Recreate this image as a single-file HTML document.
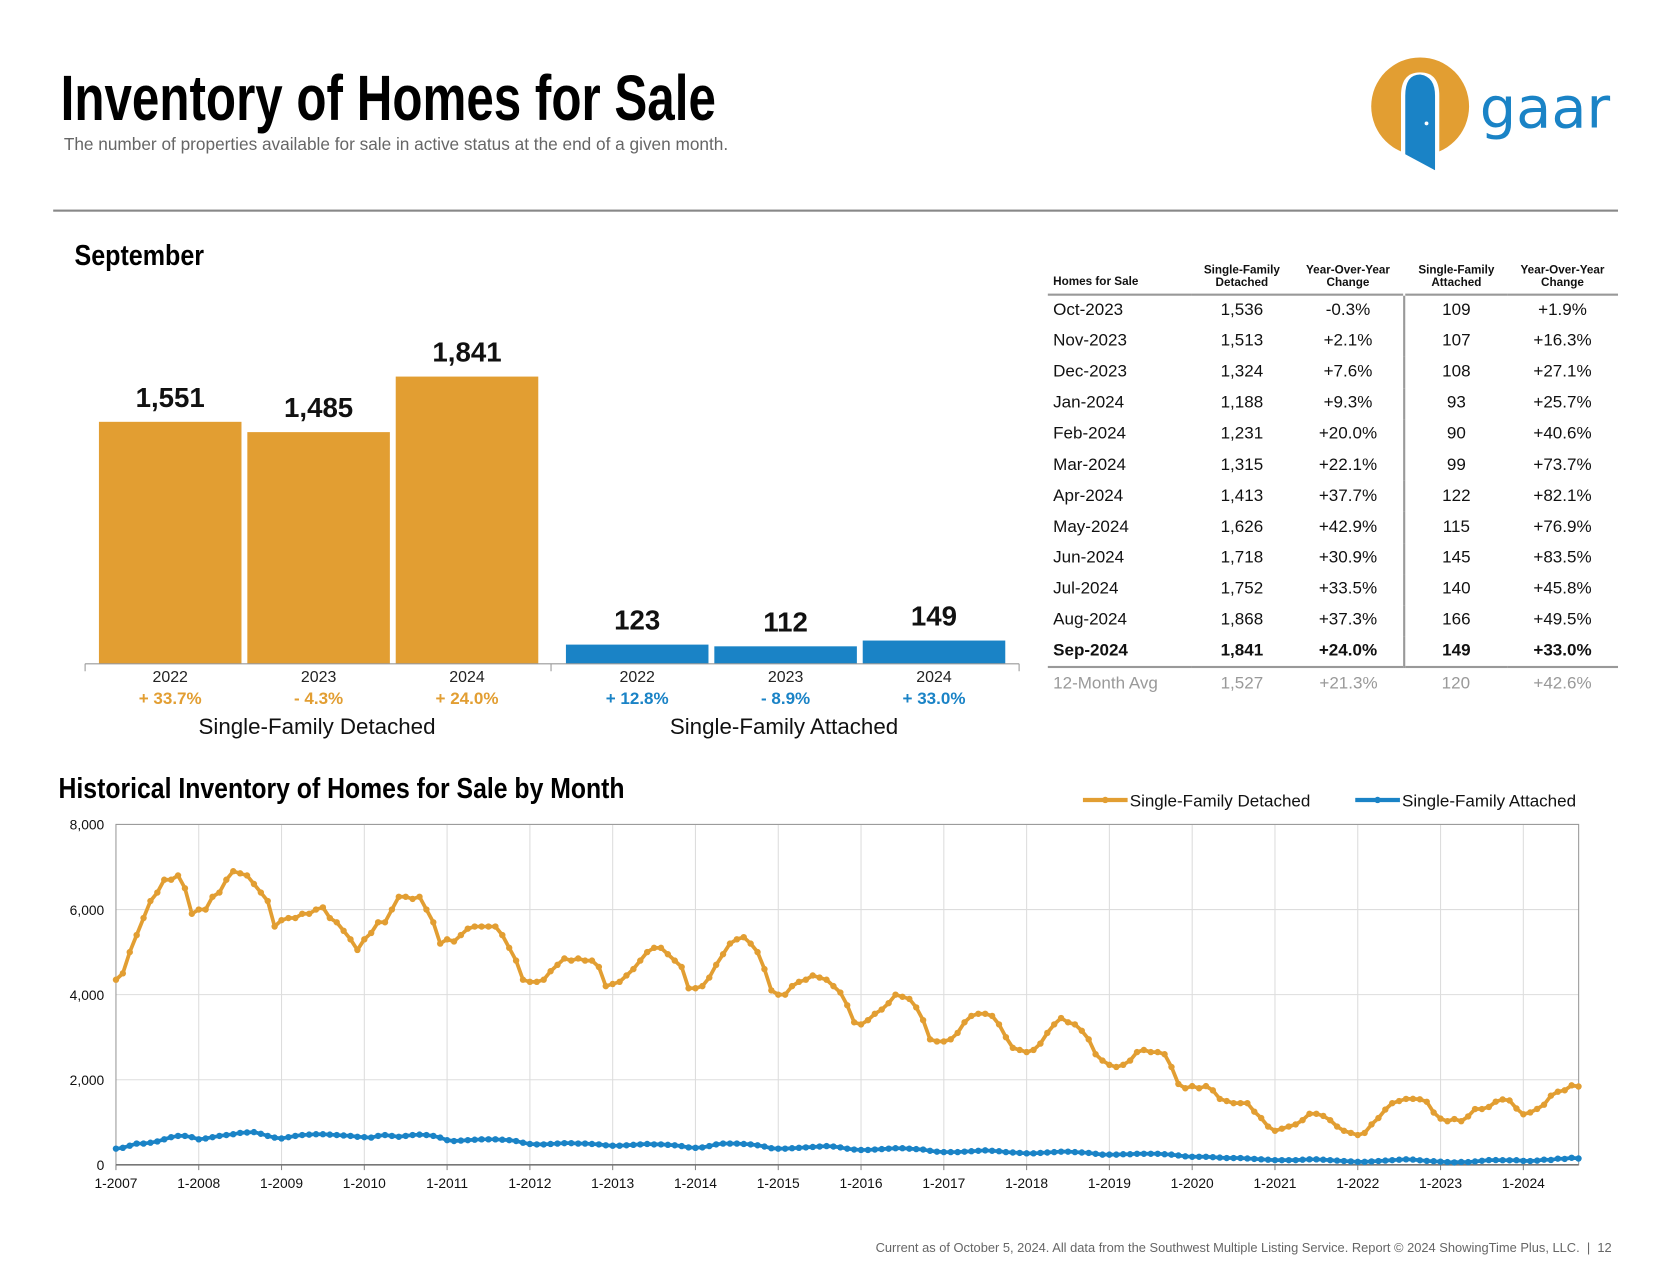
<!DOCTYPE html>
<html><head><meta charset="utf-8"><style>
html,body{margin:0;padding:0;background:#fff;}
body{width:1668px;height:1286px;overflow:hidden;font-family:"Liberation Sans",sans-serif;}
#wrap{position:absolute;left:0;top:0;width:1568px;height:1209px;transform:scale(1.06378);transform-origin:0 0;}
.abs{position:absolute;white-space:nowrap;}
.cond{display:inline-block;transform-origin:0 0;font-weight:bold;color:#000;}
table{border-collapse:collapse;}
</style></head><body>
<div id="wrap">
<div class="abs" style="left:57px;top:58px;"><span class="cond" style="font-size:60px;transform:scaleX(.773);">Inventory of Homes for Sale</span></div>
<div class="abs" style="left:60px;top:127px;font-size:16.2px;color:#666;">The number of properties available for sale in active status at the end of a given month.</div>
<svg class="abs" style="left:1285px;top:50px;" width="240" height="110">
<circle cx="50" cy="50" r="46" fill="#E29E32"/>
<path d="M32 100 L32 40 Q32 18 50 18 Q68 18 68 40 L68 100 Z" fill="#fff"/>
<path d="M36 95 L36 40 Q36 20 50 20 Q64 22 64 40 L64 110 Z" fill="#1A83C6"/>
<circle cx="56" cy="66" r="1.8" fill="#fff"/>
<text x="106" y="70" font-family="'DejaVu Sans',sans-serif" font-size="54" fill="#1A83C6">gaar</text>
</svg>
<div class="abs" style="left:50px;top:197px;width:1471px;height:2px;background:#888;"></div>
<div class="abs" style="left:70px;top:225px;"><span class="cond" style="font-size:27px;transform:scaleX(.873);">September</span></div>

<svg class="abs" style="left:0;top:280px;" width="980" height="430" id="barsvg"></svg>

<div class="abs" style="left:985px;top:239px;">
<table id="tbl" style="width:536px;font-size:16px;color:#111;"></table>
</div>

<div class="abs" style="left:55px;top:726px;"><span class="cond" style="font-size:27px;transform:scaleX(.863);">Historical Inventory of Homes for Sale by Month</span></div>
<svg class="abs" style="left:0;top:740px;" width="1568" height="390" id="linesvg"></svg>

<div class="abs" style="right:53px;top:1166px;font-size:12.1px;color:#666;">Current as of October 5, 2024. All data from the Southwest Multiple Listing Service. Report © 2024 ShowingTime Plus, LLC. &nbsp;|&nbsp; 12</div>
</div>
<script>
// ---- Bar chart data ----
const barYears = ["2022","2023","2024"];
const detachedSep = [1551,1485,1841];
const attachedSep = [123,112,149];
const detachedPct = ["+ 33.7%","- 4.3%","+ 24.0%"];
const attachedPct = ["+ 12.8%","- 8.9%","+ 33.0%"];
// ---- Table data ----
const tblMonths = ["Oct-2023","Nov-2023","Dec-2023","Jan-2024","Feb-2024","Mar-2024","Apr-2024","May-2024","Jun-2024","Jul-2024","Aug-2024","Sep-2024"];
const tblDet = ["1,536","1,513","1,324","1,188","1,231","1,315","1,413","1,626","1,718","1,752","1,868","1,841"];
const tblDetChg = ["-0.3%","+2.1%","+7.6%","+9.3%","+20.0%","+22.1%","+37.7%","+42.9%","+30.9%","+33.5%","+37.3%","+24.0%"];
const tblAtt = ["109","107","108","93","90","99","122","115","145","140","166","149"];
const tblAttChg = ["+1.9%","+16.3%","+27.1%","+25.7%","+40.6%","+73.7%","+82.1%","+76.9%","+83.5%","+45.8%","+49.5%","+33.0%"];
const tblAvg = ["12-Month Avg","1,527","+21.3%","120","+42.6%"];
// ---- Line chart data (monthly from 1-2007) ----
const yearTicks = ["1-2007","1-2008","1-2009","1-2010","1-2011","1-2012","1-2013","1-2014","1-2015","1-2016","1-2017","1-2018","1-2019","1-2020","1-2021","1-2022","1-2023","1-2024"];
const yTicks = [0,2000,4000,6000,8000];
const detachedMonthly = [
4350,4500,5000,5400,5800,6200,6400,6700,6700,6800,6500,5900,
6000,6000,6300,6400,6700,6900,6850,6800,6600,6400,6200,5600,
5750,5800,5800,5900,5900,6000,6050,5800,5700,5500,5300,5050,
5300,5450,5700,5700,6000,6300,6300,6250,6300,6000,5700,5200,
5300,5250,5400,5550,5600,5600,5600,5600,5400,5100,4800,4350,
4300,4300,4350,4550,4700,4850,4800,4850,4800,4800,4650,4200,
4250,4300,4450,4600,4800,5000,5100,5100,4950,4800,4650,4150,
4150,4200,4400,4700,4950,5200,5300,5350,5200,5000,4600,4100,
4000,4000,4200,4300,4350,4450,4400,4350,4200,4050,3750,3350,
3300,3400,3550,3650,3800,4000,3950,3900,3700,3400,2950,2900,
2900,2950,3100,3350,3500,3550,3550,3500,3300,3000,2750,2700,
2650,2700,2850,3100,3300,3450,3350,3300,3150,2950,2600,2450,
2350,2300,2350,2450,2650,2700,2650,2650,2600,2300,1900,1800,
1850,1800,1850,1750,1550,1500,1450,1450,1450,1250,1100,900,
800,850,900,950,1050,1200,1200,1150,1050,900,800,750,
700,750,950,1100,1300,1450,1500,1550,1551,1541,1482,1230,
1087,1026,1077,1026,1138,1312,1312,1360,1485,1536,1513,1324,
1188,1231,1315,1413,1626,1718,1752,1868,1841];
const attachedMonthly = [
380,400,450,500,500,520,550,600,650,680,680,650,
600,620,650,680,700,720,750,760,770,730,680,640,
620,650,680,700,710,720,720,710,700,690,680,660,
650,640,680,700,680,660,680,700,710,700,680,640,
580,560,570,580,590,600,600,600,590,580,560,520,
490,480,480,490,500,510,510,500,500,490,480,460,
450,450,460,470,480,490,480,480,470,460,440,410,
400,410,440,480,500,500,500,490,480,460,430,390,
380,380,390,400,410,420,430,440,430,410,380,360,
350,350,360,370,380,390,390,380,370,360,330,310,
300,300,300,310,320,330,340,330,320,300,290,280,
270,270,280,290,300,310,310,300,290,280,260,240,
240,240,250,250,260,260,260,260,250,240,220,200,
190,190,190,180,170,160,160,160,150,140,130,120,
110,110,110,110,120,130,130,120,110,100,90,80,
70,70,80,90,100,110,120,130,123,107,92,85,
74,64,57,67,65,79,96,111,112,109,107,108,
93,90,99,122,115,145,140,166,149];

const NS="http://www.w3.org/2000/svg";
function mk(parent,tag,attrs){const e=document.createElementNS(NS,tag);for(const k in attrs)e.setAttribute(k,attrs[k]);parent.appendChild(e);return e;}
const ORANGE="#E29E32", BLUE="#1A83C6";

// ---- Bars ----
(function(){
 const s=document.getElementById('barsvg');
 const base=344;
 const ys=v=>v*270/1841;
 const groups=[{x0:93,vals:detachedSep,pct:detachedPct,col:ORANGE,title:"Single-Family Detached",cx:298},
               {x0:532,vals:attachedSep,pct:attachedPct,col:BLUE,title:"Single-Family Attached",cx:737}];
 groups.forEach((g,gi)=>{
  g.vals.forEach((v,i)=>{
   const x=g.x0+i*139.5, h=ys(v);
   const r=mk(s,'rect',{x:x,y:base-h,width:134,height:h,fill:g.col});
   
   
   const t=mk(s,'text',{x:x+67,y:base-h-14,'text-anchor':'middle','font-size':26,'font-weight':'bold',fill:'#111'});
   t.textContent=v.toLocaleString('en-US');
   
   
   const yl=mk(s,'text',{x:x+67,y:base+17,'text-anchor':'middle','font-size':15,fill:'#222'});
   yl.textContent=barYears[i];
   
   
   const pl=mk(s,'text',{x:x+67,y:base+38,'text-anchor':'middle','font-size':16,'font-weight':'bold',fill:g.col});
   pl.textContent=g.pct[i];
   
   
  });
  const gt=mk(s,'text',{x:g.cx,y:base+66,'text-anchor':'middle','font-size':21,fill:'#111'});
  gt.textContent=g.title;
  
  
 });
 mk(s,'line',{x1:80,y1:base,x2:958,y2:base,stroke:'#999','stroke-width':1});
 [80,518,958].forEach(x=>mk(s,'line',{x1:x,y1:base,x2:x,y2:base+7,stroke:'#999'}));
})();

// ---- Table ----
(function(){
 const t=document.getElementById('tbl');
 const w=[130,100,106,102,98];
 let h='<tr style="font-size:11px;font-weight:bold;height:38px;vertical-align:bottom;border-bottom:2px solid #999;">'+
 '<td style="width:'+w[0]+'px;padding:0 0 5px 5px;">Homes for Sale</td><td style="text-align:center;padding-bottom:4px;">Single-Family<br>Detached</td><td style="text-align:center;padding-bottom:4px;">Year-Over-Year<br>Change</td><td style="text-align:center;padding-bottom:4px;border-left:2px solid transparent;">Single-Family<br>Attached</td><td style="text-align:center;padding-bottom:4px;">Year-Over-Year<br>Change</td></tr>';
 tblMonths.forEach((m,i)=>{
  const last=i===tblMonths.length-1;
  h+='<tr style="height:29.2px;'+(last?'font-weight:bold;border-bottom:2px solid #999;':'')+'"><td style="padding-left:5px;">'+m+'</td><td style="text-align:center;">'+tblDet[i]+'</td><td style="text-align:center;">'+tblDetChg[i]+'</td><td style="text-align:center;border-left:2px solid #999;">'+tblAtt[i]+'</td><td style="text-align:center;">'+tblAttChg[i]+'</td></tr>';
 });
 h+='<tr style="height:30px;color:#999;"><td style="padding-left:5px;">'+tblAvg[0]+'</td><td style="text-align:center;">'+tblAvg[1]+'</td><td style="text-align:center;">'+tblAvg[2]+'</td><td style="text-align:center;">'+tblAvg[3]+'</td><td style="text-align:center;">'+tblAvg[4]+'</td></tr>';
 t.innerHTML=h;
})();

// ---- Line chart ----
(function(){
 const s=document.getElementById('linesvg');
 const L=109,R=1484,T=35,B=355;
 const step=(1432-109)/17/12;
 const xs=i=>L+i*step;
 const yv=v=>B-(v/8000)*(B-T);
 yTicks.forEach(v=>{
  if(v>0) mk(s,'line',{x1:L,y1:yv(v),x2:R,y2:yv(v),stroke:'#ddd'});
  const t=mk(s,'text',{x:L-11,y:yv(v)+5,'text-anchor':'end','font-size':13,fill:'#111'});
  t.textContent=v.toLocaleString('en-US');
  
  
 });
 yearTicks.forEach((lab,i)=>{
  const x=xs(i*12);
  if(i>0) mk(s,'line',{x1:x,y1:T,x2:x,y2:B,stroke:'#ddd'});
  mk(s,'line',{x1:x,y1:B,x2:x,y2:B+5,stroke:'#888'});
  const t=mk(s,'text',{x:x,y:B+22,'text-anchor':'middle','font-size':13,fill:'#111'});
  t.textContent=lab;
  
  
 });
 mk(s,'rect',{x:L,y:T,width:R-L,height:B-T,fill:'none',stroke:'#999'});
 mk(s,'line',{x1:L,y1:B,x2:R,y2:B,stroke:'#777','stroke-width':1.5});
 [[attachedMonthly,BLUE,'attached'],[detachedMonthly,ORANGE,'detached']].forEach(([d,c,n])=>{
  const p=mk(s,'polyline',{points:d.map((v,i)=>xs(i)+','+yv(v)).join(' '),fill:'none',stroke:c,'stroke-width':3.5,'stroke-linejoin':'round'});
  
  
  d.forEach((v,i)=>{const m=mk(s,'circle',{cx:xs(i),cy:yv(v),r:3,fill:c});
   
   });
 });
 [[1018,ORANGE,'Single-Family Detached'],[1274,BLUE,'Single-Family Attached']].forEach(([x,c,lab])=>{
  const g=mk(s,'g',{});
  
  
  mk(g,'line',{x1:x,y1:12,x2:x+42,y2:12,stroke:c,'stroke-width':4});
  mk(g,'circle',{cx:x+21,cy:12,r:3,fill:c});
  const t=mk(g,'text',{x:x+44,y:18,'font-size':16,fill:'#111'});
  t.textContent=lab;
 });
})();
</script>
</body></html>
